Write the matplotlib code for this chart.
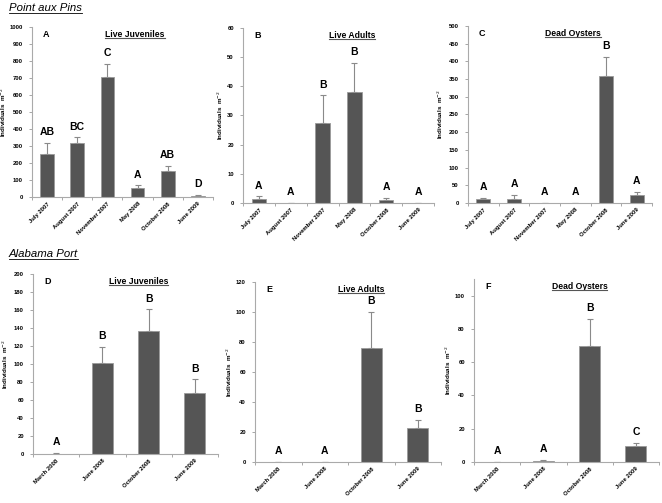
import numpy as np
import matplotlib
matplotlib.use("Agg")
import matplotlib.pyplot as plt
from matplotlib.lines import Line2D

plt.rcParams['font.family'] = ['Liberation Sans', 'DejaVu Sans']

# ---- data ----
pins_months = ['July 2007', 'August 2007', 'November 2007', 'May 2008', 'October 2008', 'June 2009']
port_months = ['March 2008', 'June 2008', 'October 2008', 'June 2009']

a_vals = [255, 315, 705, 55, 155, 5]
a_err = [63, 37, 80, 15, 30, 7]
a_lett = ['AB', 'BC', 'C', 'A', 'AB', 'D']

b_vals = [1.2, 0, 27.5, 38, 1.0, 0]
b_err = [1.1, 0, 9.5, 10, 0.8, 0]
b_lett = ['A', 'A', 'B', 'B', 'A', 'A']

c_vals = [10, 12, 0, 0, 360, 22]
c_err = [4, 12, 0, 0, 53, 10]
c_lett = ['A', 'A', 'A', 'A', 'B', 'A']

d_vals = [0.5, 101, 137, 68]
d_err = [0.7, 18, 24, 15]
d_lett = ['A', 'B', 'B', 'B']

e_vals = [0, 0, 76, 22.5]
e_err = [0, 0, 24, 5.5]
e_lett = ['A', 'A', 'B', 'B']

f_vals = [0, 0.7, 69.5, 9.5]
f_err = [0, 0.5, 16.5, 2]
f_lett = ['A', 'A', 'B', 'C']

panels = [
    # (pixel rect, ylabel x, months, vals, err, letters, ymax, ystep, tag, title)
    ([32, 213, 197, 27], 8, pins_months, a_vals, a_err, a_lett, 1000, 100, 'A', 'Live Juveniles'),
    ([243, 434, 203, 28], 225, pins_months, b_vals, b_err, b_lett, 60, 10, 'B', 'Live Adults'),
    ([468, 652, 203, 26], 445, pins_months, c_vals, c_err, c_lett, 500, 50, 'C', 'Dead Oysters'),
    ([33, 218, 454, 274], 10, port_months, d_vals, d_err, d_lett, 200, 20, 'D', 'Live Juveniles'),
    ([255, 441, 462, 282], 234, port_months, e_vals, e_err, e_lett, 120, 20, 'E', 'Live Adults'),
    ([474, 659, 462, 279], 453, port_months, f_vals, f_err, f_lett, 110, 20, 'F', 'Dead Oysters'),
]

W, H = 662, 503
fig = plt.figure(figsize=(W / 100, H / 100), dpi=100)

underline_texts = []

for rect, ylx, months, vals, err, lett, ymax, ystep, tag, title in panels:
    x0, x1, yb, yt = rect
    ax = fig.add_axes([x0 / W, 1 - yb / H, (x1 - x0) / W, (yb - yt) / H])
    n = len(months)
    x = np.arange(n)
    ax.bar(x, vals, width=0.45, color='#555555', edgecolor='#9a9a9a', linewidth=0.6, zorder=2)
    ax.errorbar(x, vals, yerr=[np.zeros(n), err], fmt='none', ecolor='#8a8a8a',
                elinewidth=0.8, capsize=2, capthick=0.8, zorder=1)
    for xi, v, e, l in zip(x, vals, err, lett):
        ax.annotate(l, (xi, v + e), xytext=(0, 4), textcoords='offset points',
                    ha='center', va='bottom', fontsize=7.5, fontweight='bold')

    ax.set_xlim(-0.5, n - 0.5)
    ax.set_ylim(0, ymax)
    ax.set_yticks(np.arange(0, ymax + 1, ystep))
    ax.set_xticks(x)
    ax.set_xticklabels(months, rotation=45, ha='right', rotation_mode='anchor',
                       fontsize=4.2, fontweight='bold')
    ax.set_xticks(np.arange(-0.5, n, 1.0), minor=True)
    ax.tick_params(axis='x', which='major', length=0, pad=3)
    ax.tick_params(axis='x', which='minor', length=2.5, color='#999999', width=0.6)
    ax.tick_params(axis='y', length=2.5, color='#999999', width=0.6, labelsize=4.2, pad=4)
    for lab in ax.get_yticklabels():
        lab.set_fontweight('bold')
    for s in ['top', 'right']:
        ax.spines[s].set_visible(False)
    for s in ['left', 'bottom']:
        ax.spines[s].set_color('#aaaaaa')
        ax.spines[s].set_linewidth(0.8)

    ax.set_ylabel('Individuals  m$^{-2}$', fontsize=4.5, fontweight='bold')
    ax.yaxis.set_label_coords((ylx - x0) / (x1 - x0), 0.5)
    ax.text(0.06, 0.985, tag, transform=ax.transAxes, fontsize=6.5, fontweight='bold',
            ha='left', va='top')
    t = ax.text(0.57, 0.985, title, transform=ax.transAxes, fontsize=6.2, fontweight='bold',
                ha='center', va='top')
    underline_texts.append((t, 0.8, '#555555'))

h1 = fig.text(9 / W, 1 - 3 / H, 'Point aux Pins', fontsize=8.2, style='italic', ha='left', va='top')
h2 = fig.text(9 / W, 1 - 249 / H, 'Alabama Port', fontsize=8.2, style='italic', ha='left', va='top')
underline_texts.append((h1, 0.6, 'black'))
underline_texts.append((h2, 0.6, 'black'))

# draw underlines below titles
fig.canvas.draw()
renderer = fig.canvas.get_renderer()
for t, lw, col in underline_texts:
    bb = t.get_window_extent(renderer)
    y = bb.y0 + 0.5
    fig.add_artist(Line2D([bb.x0 / W, bb.x1 / W], [y / H, y / H],
                          transform=fig.transFigure, color=col, linewidth=lw))

fig.savefig('out.png', dpi=100)
